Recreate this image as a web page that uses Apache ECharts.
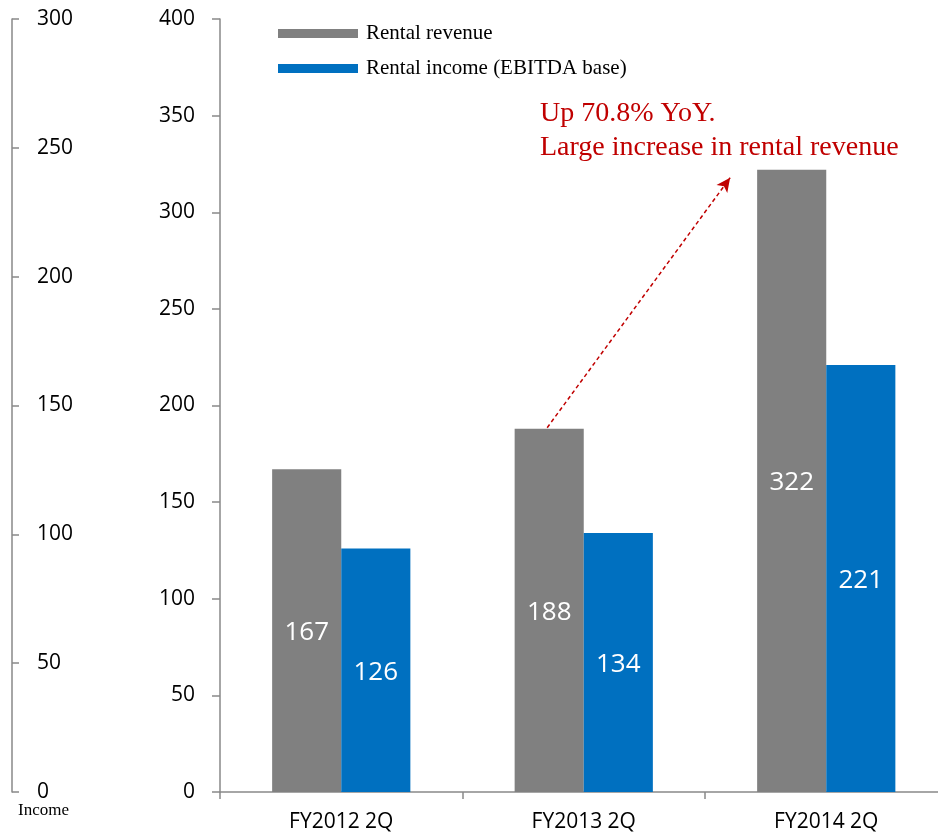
<!DOCTYPE html>
<html>
<head>
<meta charset="utf-8">
<script src="https://cdn.jsdelivr.net/npm/echarts@6/dist/echarts.min.js"></script>
<style>
  html, body { margin: 0; padding: 0; background: #fff; overflow: hidden; }
  #chart { width: 950px; height: 834px; }
</style>
</head>
<body>
<div id="chart"></div>
<script>
// Quarterly rental figures (JPY mn)
const categories = ['FY2012 2Q', 'FY2013 2Q', 'FY2014 2Q'];
const rentalRevenue = [167, 188, 322];
const rentalIncome = [126, 134, 221];
const seriesNames = ['Rental revenue', 'Rental income (EBITDA base)'];
const noteLines = ['Up 70.8% YoY.', 'Large increase in rental revenue'];

const axisGray = '#898989';
const sansFont = '"Open Sans", "Noto Sans", sans-serif';
const serifFont = '"Liberation Serif", "DejaVu Serif", serif';
const catGap = 0.43;

const chart = echarts.init(document.getElementById('chart'), null, { renderer: 'canvas' });

const option = {
  animation: false,
  backgroundColor: '#fff',
  grid: { left: 220, top: 19, width: 727.5, height: 773, containLabel: false },
  legend: {
    orient: 'vertical',
    left: 273,
    top: 18,
    itemWidth: 80,
    itemHeight: 9,
    itemGap: 14,
    icon: 'rect',
    data: seriesNames,
    textStyle: { fontFamily: serifFont, fontSize: 21, color: '#000', padding: [0, 0, 0, 3] }
  },
  xAxis: {
    type: 'category',
    data: categories,
    axisLine: { lineStyle: { color: axisGray, width: 1.5 } },
    axisTick: { show: true, length: 7, alignWithLabel: false, lineStyle: { color: axisGray, width: 1.5 } },
    axisLabel: { fontFamily: sansFont, fontSize: 21, color: '#000', margin: 20 }
  },
  yAxis: [
    {
      type: 'value',
      min: 0, max: 400, interval: 50,
      position: 'left',
      axisLine: { show: true, lineStyle: { color: axisGray, width: 1.5 } },
      axisTick: { show: true, length: 8, lineStyle: { color: axisGray, width: 1.5 } },
      splitLine: { show: false },
      axisLabel: { fontFamily: sansFont, fontSize: 21, color: '#000', margin: 25 }
    },
    {
      type: 'value',
      min: 0, max: 300, interval: 50,
      position: 'left',
      offset: 208,
      name: 'Income',
      nameLocation: 'start',
      nameGap: 10,
      nameTextStyle: { fontFamily: serifFont, fontSize: 17, color: '#000', align: 'left', padding: [0, 0, 0, 6] },
      axisLine: { show: true, lineStyle: { color: axisGray, width: 1.5 } },
      axisTick: { show: true, inside: true, length: 7, lineStyle: { color: axisGray, width: 1.5 } },
      splitLine: { show: false },
      axisLabel: { inside: true, fontFamily: sansFont, fontSize: 21, color: '#000', margin: 25 }
    }
  ],
  series: [
    {
      name: seriesNames[0],
      type: 'bar',
      data: rentalRevenue,
      barGap: '0%',
      barCategoryGap: (catGap * 100) + '%',
      itemStyle: { color: '#808080' },
      label: { show: true, position: 'inside', color: '#fff', fontFamily: sansFont, fontSize: 26, offset: [0, 2] }
    },
    {
      name: seriesNames[1],
      type: 'bar',
      data: rentalIncome,
      barGap: '0%',
      barCategoryGap: (catGap * 100) + '%',
      itemStyle: { color: '#0070C0' },
      label: { show: true, position: 'inside', color: '#fff', fontFamily: sansFont, fontSize: 26, offset: [0, 2] }
    }
  ],
  graphic: [
    {
      type: 'text',
      left: 540,
      top: 97,
      style: {
        text: noteLines.join('\n'),
        fill: '#C00000',
        font: '28px ' + serifFont,
        lineHeight: 34
      }
    }
  ]
};

chart.setOption(option);

// Dashed growth arrow from the FY2013 revenue bar towards the FY2014 revenue bar
const cx1 = chart.convertToPixel({ xAxisIndex: 0 }, 1);
const cx2 = chart.convertToPixel({ xAxisIndex: 0 }, 2);
const band = cx2 - cx1;
const barW = band * (1 - catGap) / 2;
const startX = cx1 - barW / 2 - 2;
const startY = chart.convertToPixel({ yAxisIndex: 0 }, rentalRevenue[1]) - 1;
const endX = cx2 - barW - 27;
const endY = chart.convertToPixel({ yAxisIndex: 0 }, rentalRevenue[2]) + 8;

chart.setOption({
  series: [{
    name: seriesNames[0],
    markLine: {
      silent: true,
      animation: false,
      symbol: ['none', 'arrow'],
      symbolSize: [10, 14],
      label: { show: false },
      lineStyle: { color: '#C00000', type: [4, 3], width: 1.5 },
      data: [[{ x: startX, y: startY }, { x: endX, y: endY }]]
    }
  }]
});
</script>
</body>
</html>
